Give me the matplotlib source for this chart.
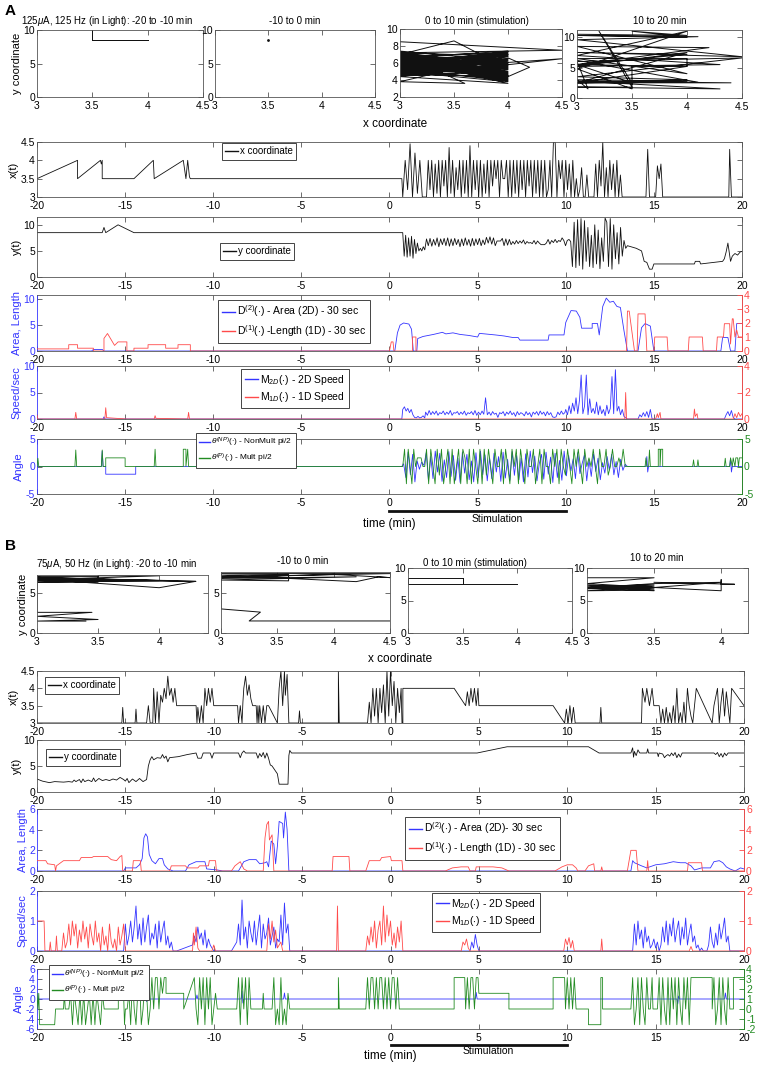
import numpy as np
import matplotlib
matplotlib.use("Agg")
import matplotlib.pyplot as plt
from matplotlib.ticker import FormatStrFormatter

plt.rcParams['font.family'] = ['Liberation Sans', 'DejaVu Sans']
plt.rcParams['mathtext.fontset'] = 'custom'
plt.rcParams['mathtext.rm'] = 'Liberation Sans'
plt.rcParams['mathtext.it'] = 'Liberation Sans:italic'
plt.rcParams['axes.unicode_minus'] = False

BLUE = '#3434ff'
RED = '#ff4a4a'
GREEN = '#228b22'
BLACK = '#111111'
GRID = '#555555'

# ---------------- data : panel A ----------------
A1_path = [(3.5, 8.5), (4.0, 8.5), (3.5, 8.5), (4.0, 8.5), (3.5, 8.5), (3.5, 10.0), (3.5, 8.5), (4.0, 8.5)]
A2_path = [(3.5, 8.5)]
A3_path = [(3.0, 8.5), (4.5, 7.5), (3.0, 7.2), (4.0, 6.8), (3.0, 6.5), (4.0, 4.2), (3.0, 7.0), (4.0, 5.0),
           (3.0, 4.5), (4.0, 6.0), (3.0, 5.5), (4.0, 7.0), (3.0, 6.0), (4.0, 4.0), (3.0, 7.3), (4.0, 5.5),
           (3.0, 4.8), (4.0, 6.5), (3.0, 5.0), (4.0, 3.8), (3.0, 6.8), (4.0, 7.2), (3.0, 5.8), (4.0, 4.5),
           (3.0, 4.6), (4.0, 6.2), (3.0, 7.0), (3.5, 8.6), (3.7, 7.3), (4.0, 5.8), (3.0, 6.3), (4.0, 4.8),
           (3.0, 5.2), (4.5, 6.5), (3.0, 4.4), (4.0, 3.6), (3.0, 6.6), (4.0, 7.4), (3.0, 5.6), (4.0, 5.2),
           (3.0, 4.5), (4.0, 6.8), (3.0, 3.8), (3.6, 3.6), (3.0, 7.1), (4.0, 4.4), (4.2, 5.5), (4.0, 6.6),
           (3.0, 5.9), (4.0, 4.6), (3.0, 6.4), (4.0, 7.0), (3.0, 4.7), (4.0, 5.6), (3.0, 6.9), (4.0, 3.9),
           (3.0, 5.3), (4.0, 6.3), (3.0, 7.4), (4.0, 4.3), (3.0, 6.1), (4.0, 5.4), (3.0, 4.9), (4.0, 6.9),
           (3.0, 5.4), (4.0, 4.7), (3.0, 6.7), (4.0, 5.9), (3.0, 4.6), (4.0, 7.1), (3.0, 5.7), (4.0, 4.9),
           (3.0, 7.2), (4.0, 5.3), (3.0, 6.2), (4.0, 6.4), (3.0, 5.1), (4.0, 4.1), (3.0, 6.0), (4.0, 7.3),
           (3.0, 4.7), (4.0, 5.7), (3.0, 6.5), (4.0, 4.5)]
A4_path = [(3.0, 10.5), (4.0, 10.3), (3.5, 11.0), (4.0, 10.0), (3.0, 10.3), (4.1, 10.1), (3.0, 9.6), (4.5, 6.8),
           (3.0, 7.5), (4.0, 7.2), (3.0, 5.5), (4.0, 5.2), (3.0, 2.5), (4.4, 2.5), (3.0, 2.8), (4.3, 1.5),
           (3.0, 1.8), (3.5, 1.8), (3.2, 11.0), (3.5, 2.5), (3.0, 5.5), (4.2, 8.3), (3.0, 8.5), (4.0, 4.0),
           (3.0, 6.5), (4.0, 6.5), (4.0, 5.2), (3.5, 5.2), (3.5, 1.5), (3.0, 4.8), (4.0, 11.0), (3.0, 7.0),
           (4.3, 5.5), (3.0, 5.2), (4.0, 7.5), (3.0, 2.5), (4.0, 2.8), (3.0, 3.0), (3.1, 1.5), (3.0, 6.0),
           (4.5, 6.6), (3.0, 3.5), (4.0, 3.0), (3.0, 2.5), (4.1, 2.6), (3.0, 6.2)]

# x(t), panel A
Ax_pre = [(-20, 3.5), (-17.7, 4.0), (-17.7, 3.5), (-16.4, 4.0), (-16.35, 3.9), (-16.3, 4.0), (-16.3, 3.5),
          (-14.5, 3.5), (-13.4, 4.0), (-13.35, 3.5), (-11.7, 4.0), (-11.55, 3.5), (-11.45, 4.0),
          (-11.35, 3.55), (-11.3, 3.5), (0.7, 3.5)]
Ax_d1 = [3.0, 4.0, 3.2, 4.45, 3.0, 4.2, 3.1, 4.0, 3.0, 3.0]                      # 0.75 - 2.0
Ax_d2 = [3.0, 4.0, 3.2, 4.0, 3.0, 3.9, 3.1, 4.0, 3.0, 4.0,
         3.3, 4.0, 3.0, 4.35, 3.1, 4.0, 3.0, 3.8, 3.2, 4.0,
         3.0, 4.0, 3.1, 4.0, 3.0, 4.4, 3.0, 4.0, 3.2, 4.0,
         3.0, 4.0, 3.0, 3.9, 3.1, 4.0, 3.0, 4.0, 3.3, 4.0,
         3.5, 4.0, 3.0, 4.0, 3.5, 3.5, 4.0, 3.0, 4.0, 3.0,
         4.0, 3.1, 4.0, 3.0, 4.0, 3.2, 4.0, 3.0, 4.0, 3.3,
         4.0, 3.0, 4.0, 3.1, 4.0, 3.0, 4.0, 3.0, 4.0, 3.0,
         3.2, 4.0, 3.0, 4.5]                                                     # 2.1 - 9.3
Ax_d3 = [4.5, 3.0, 4.0, 3.5, 4.0, 3.0, 4.0, 3.2, 3.9, 3.0,
         4.0, 3.0, 3.5, 3.0, 3.2, 3.8, 3.0, 3.0, 3.6, 3.0,
         3.0, 3.0, 3.0, 3.9, 3.0, 4.0, 3.3, 4.5, 3.0, 3.8,
         3.0, 4.0, 3.2, 3.9, 3.0, 4.0, 3.0, 3.6, 3.0, 3.0, 3.0]                   # 9.4 - 13.4
Ax_post = [(13.5, 3.0), (14.55, 3.0), (14.65, 4.3), (14.75, 3.0), (15.1, 3.0), (15.2, 3.85), (15.3, 3.5),
           (15.4, 3.9), (15.5, 3.0), (19.25, 3.0), (19.3, 4.3), (19.4, 3.0), (20.0, 3.0)]

# y(t), panel A
Ay_pre = [(-20, 8.5), (-16.3, 8.5), (-16.2, 9.5), (-16.1, 8.5), (-15.4, 10.0), (-14.5, 8.5), (0.7, 8.5)]
Ay_d1 = [8.5, 4.0, 8.0, 3.8, 7.5, 4.0, 7.8, 3.6, 7.2, 4.5, 6.5, 5.0, 5.5, 5.0, 5.8, 5.2]   # 0.75 - 2.0
Ay_d2 = [7.3, 6.0, 7.4, 5.9, 7.2, 6.1, 7.5, 5.8, 7.3, 6.2, 7.4, 6.0, 7.5, 5.9, 7.3, 6.0, 7.4, 6.2, 7.2, 5.8,
         7.3, 6.0, 7.5, 6.1, 7.2, 5.9, 7.4, 6.0, 7.3, 6.2, 7.4, 6.0, 7.1, 6.2, 7.6, 6.5, 7.7, 6.3, 7.5, 6.0,
         6.9, 6.9, 6.9, 7.4, 6.0, 7.3, 6.1, 7.2, 6.2, 6.8, 6.3, 7.0, 6.4, 6.9, 6.5, 7.1, 6.3, 6.8, 6.5, 6.6,
         6.4, 7.0, 6.3, 6.9, 6.5, 6.2, 6.2, 6.2, 6.5, 7.2, 6.3, 7.0, 6.6, 7.2]                  # 2.1 - 9.4
Ay_d3 = [6.6, 7.0, 6.8, 7.5, 7.0, 6.0, 7.0, 7.2, 6.8,
         2.0, 10.5, 1.8, 11.0, 2.2, 11.2, 1.5, 10.8, 3.0, 9.5, 2.0, 8.0, 1.8, 10.0, 2.5, 9.0, 1.6,
         7.5, 3.0, 11.3, 10.5, 2.0, 11.2, 1.5, 10.0, 3.5, 8.5, 2.5, 9.5, 4.0, 7.0, 5.5, 6.0]    # 9.5 - 13.5
Ay_post = [(14.0, 5.5), (14.3, 5.0), (14.45, 3.0), (14.6, 2.8), (14.75, 1.5), (14.9, 1.5), (15.0, 2.5),
           (17.3, 2.5), (17.35, 3.0), (17.6, 3.0), (17.65, 2.5), (18.9, 3.0), (19.0, 3.5), (19.1, 4.8),
           (19.2, 6.5), (19.35, 3.0), (19.45, 4.0), (19.6, 4.5), (19.75, 4.2), (19.9, 4.8), (20.0, 4.9)]

# Area / Length, panel A  (blue: left axis, red: right axis)
A_area = [(-20, 0), (-16.9, 0), (-16.8, 0.3), (-16.3, 0.3), (-16.2, 0), (0.3, 0), (0.45, 3.5), (0.6, 5.0),
          (0.8, 5.4), (1.1, 5.2), (1.25, 4.2), (1.35, 0), (1.55, 0), (1.6, 2.4), (1.9, 2.8), (2.5, 3.2),
          (3.0, 3.6), (3.2, 3.3), (3.6, 3.5), (4.0, 3.2), (4.5, 3.0), (5.0, 2.7), (5.1, 3.4), (6.0, 3.1),
          (6.5, 2.9), (7.0, 2.6), (7.3, 2.6), (7.4, 2.1), (9.0, 2.1), (9.05, 3.1), (9.9, 3.1), (10.0, 5.5),
          (10.3, 7.8), (10.6, 7.7), (10.8, 6.5), (10.9, 4.4), (11.5, 4.4), (11.5, 5.3), (11.8, 5.3),
          (11.9, 3.1), (12.1, 8.6), (12.3, 10.2), (12.5, 9.4), (12.7, 9.6), (12.9, 8.6), (13.1, 8.4),
          (13.3, 4.0), (13.5, 0), (14.1, 0), (14.3, 4.5), (14.5, 5.3), (14.8, 4.8), (15.0, 0), (18.8, 0),
          (18.9, 2.6), (19.2, 2.6), (19.35, 0), (19.6, 0), (19.7, 5.3), (20, 5.3)]
A_length = [(-20, 0.15), (-18.2, 0.15), (-18.2, 0.45), (-17.7, 0.45), (-17.7, 0.2), (-16.8, 0.2), (-16.8, 0.0),
            (-16.2, 0.0), (-16.2, 0.9), (-16.0, 1.25), (-15.6, 0.4), (-15.4, 0.65), (-14.9, 0.65),
            (-14.9, 0.0), (-14.5, 0.0), (-14.5, 0.2), (-13.7, 0.2), (-13.7, 0.45), (-12.7, 0.45),
            (-12.7, 0.2), (-12.0, 0.2), (-12.0, 0.45), (-11.3, 0.45), (-11.3, 0), (0.0, 0), (0.1, 0.65),
            (0.2, 0.65), (0.25, 0), (1.3, 0), (1.3, 1.0), (1.5, 1.0), (1.5, 0), (13.45, 0), (13.5, 2.85),
            (13.6, 2.85), (13.9, 0), (14.05, 0), (14.1, 2.65), (14.5, 2.65), (14.6, 0), (15.0, 0),
            (15.05, 1.0), (15.75, 1.0), (15.8, 0), (16.95, 0), (17.0, 1.0), (17.75, 1.0), (17.8, 0),
            (18.55, 0), (18.6, 1.0), (18.95, 1.0), (19.0, 1.95), (19.3, 1.95), (19.35, 0.5), (19.45, 2.3),
            (19.5, 2.3), (19.6, 1.0), (19.7, 1.5), (19.8, 1.0), (20, 1.0)]

# Speed, panel A  (blue: left axis 0-10, red: right axis 0-4)
A_sp2_pre = [(-20, 0.2), (-19.95, 0), (-16.25, 0), (-16.2, 0.4), (-16.15, 0), (0.7, 0)]
A_sp2_d1 = [1.8, 2.3, 1.5, 2.0, 1.2, 1.8, 0.8, 0.3, 0.2, 0.5, 0.2, 0.3, 0.6, 0.2]           # 0.75 - 2.0
A_sp2_d2 = [1.3, 0.7, 1.6, 0.8, 1.4, 0.9, 1.5, 0.7, 1.2, 1.0, 1.5, 0.8, 1.3, 0.9, 1.6, 0.7, 1.2, 1.1, 1.4, 0.8,
            1.3, 0.9, 1.5, 0.7, 1.2, 1.0, 1.4, 0.8, 1.6, 0.7, 1.3, 0.8, 1.5, 0.9, 4.0, 0.8, 1.3, 0.7, 1.4, 0.9,
            1.1, 0.3, 1.2, 1.0, 1.4, 0.6, 1.3, 0.9, 1.5, 0.8, 1.2, 0.5, 1.4, 0.8, 1.2, 1.0, 0.6, 1.4, 0.8, 1.2,
            0.4, 1.3, 0.9, 1.4, 0.7, 1.5, 0.9, 1.3, 0.6, 1.4, 0.8, 1.2, 0.4, 0.3, 0.4, 1.3, 0.8, 1.5, 0.9, 1.2]
A_sp2_d3 = [1.8, 0.8, 2.5, 1.0, 3.0, 1.5, 4.0, 1.0, 3.5, 8.3, 1.0, 2.5, 8.3, 0.8, 3.8, 1.2, 2.0, 1.0, 3.2, 0.8,
            2.5, 1.0, 1.8, 0.6, 2.6, 1.0, 2.0, 8.0, 1.0, 9.3, 1.5, 2.4, 0.8, 1.8, 0.5, 0.2]  # 10.0 - 13.4
A_sp2_post = [(13.5, 0), (14.1, 0), (14.2, 0.8), (14.3, 0.4), (14.4, 1.2), (14.5, 0.5), (14.6, 1.4), (14.7, 0.3),
              (14.8, 1.8), (14.9, 0), (19.0, 0), (19.1, 0.8), (19.2, 1.4), (19.3, 0.6), (19.4, 1.6), (19.5, 0.3),
              (19.6, 0), (20, 0)]
A_sp1 = [(-20, 0.3), (-19.95, 0), (-17.85, 0), (-17.8, 0.5), (-17.75, 0), (-16.15, 0), (-16.1, 0.85),
         (-16.05, 0.1), (-15.5, 0.05), (-14.9, 0), (-13.35, 0), (-13.3, 0.25), (-13.25, 0.05), (-11.45, 0),
         (-11.4, 0.5), (-11.35, 0), (13.35, 0), (13.4, 2.0), (13.45, 0), (15.1, 0), (15.2, 0.4), (15.25, 0.1),
         (15.35, 0.5), (15.4, 0), (17.25, 0), (17.3, 0.75), (17.35, 0.2), (17.45, 0.4), (17.5, 0), (19.5, 0),
         (19.6, 0.4), (19.7, 0.1), (19.8, 0.5), (19.9, 0.2), (20, 0.4)]

# Angle, panel A  (blue: non multiples of pi/2, green: multiples of pi/2)
A_angP_pre = [(-20, 0), (-19.95, 1.5), (-19.9, 0), (-17.85, 0), (-17.8, 3.0), (-17.75, 0), (-16.35, 0),
              (-16.3, 3.0), (-16.25, 0), (-16.1, 0), (-16.1, 1.57), (-15.0, 1.57), (-15.0, 0), (-13.35, 0),
              (-13.3, 3.14), (-13.25, 0), (-11.7, 0), (-11.7, 3.14), (-11.55, 3.14), (-11.55, 0),
              (-11.45, 3.14), (-11.4, 0), (0.7, 0)]
A_angP_d1 = [0, 3.14, -3.14, 3.14, 0, -3.14, 3.14, 0, 1.57, 1.57, 1.57, 0, 0]              # 0.75 - 2.0
A_angP_d2 = [3.14, -3.14, 3.14, 0, -3.14, 3.14, -1.57, 3.14, -3.14, 0,
             3.14, -3.14, 3.14, -3.14, 0, 3.14, -3.14, 3.14, 1.57, -3.14,
             3.14, -3.14, 3.14, 0, -3.14, 3.14, -3.14, 3.14, -1.57, 3.14,
             0, -3.14, 3.14, 0, 0, 3.14, -3.14, 3.14, 0, -3.14,
             3.14, 0, 3.14, -3.14, 3.14, 0, -3.14, 3.14, 0, 0,
             3.14, -3.14, 0, 3.14, -3.14, 3.14, 0, 0, -3.14, 3.14,
             0, 3.14, -3.14, 3.14, 0, -1.57, 3.14, 0, -3.14, 3.14,
             0, 3.14, 0, -3.14, 3.14, 0, 1.57, 0, 3.14, 0,
             -3.14, 3.14, 0, 0, 3.14, -1.57, 0, 3.14, 0, 0,
             1.57, 0, 3.14, 0, 0]                                                        # 2.1 - 13.5
A_angP_post = [(13.6, 0), (14.5, 0), (14.55, 1.57), (14.6, 0), (14.7, 0), (14.75, 3.0), (14.8, 0), (15.25, 0),
               (15.25, 3.14), (15.35, 3.14), (15.35, 0), (15.4, 3.14), (15.5, 3.14), (15.5, 0), (17.2, 0),
               (17.25, 1.2), (17.3, 0), (17.45, 0), (17.5, 1.2), (17.55, 0), (19.0, 0), (19.05, 1.5), (19.1, 0),
               (19.3, 0), (19.35, 1.57), (19.45, 0), (19.5, 1.57), (19.6, 0), (19.65, 1.57), (19.75, 1.57),
               (19.8, 0), (19.85, 1.57), (20, 1.57)]
A_angNP_pre = [(-20, 0), (-16.35, 0), (-16.3, 2.8), (-16.25, 0), (-16.1, 0), (-16.1, -1.4), (-14.4, -1.4),
               (-14.4, 0), (0.7, 0)]
A_angNP_d = [0.5, -2.0, 2.6, -1.5, 2.2, -2.8, 1.0, -0.5, 0.8, 0.2,
             2.5, -2.6, 1.8, -2.2, 2.8, -1.0, 2.4, -2.7, 1.2, -2.0,
             2.7, -1.8, 2.0, -2.5, 1.5, -2.9, 2.6, -1.2, 2.2, -2.4,
             1.0, -2.8, 2.5, -2.0, 2.8, -1.5, 2.1, -2.6, 1.6, -2.2,
             2.4, -1.0, 1.8, -2.7, 2.6, -2.1, 1.3, -2.5, 2.7, -1.6,
             2.0, -2.4, 1.5, -2.8, 2.3, -1.9, 2.8, -1.1, 1.9, -2.6,
             0.5, 2.2, -2.3, 2.6, -1.4, 1.7, -2.9, 2.4, -2.0, 1.1,
             -2.5, 2.8, -1.7, 2.0, -0.8, 1.4, -2.2, 2.5, -1.3, 0.6,
             2.1, -2.6, 1.2, -1.8, 2.3, -0.9, 1.5, -2.4, 0.7, -1.2,
             1.8, -0.6, 2.2, -1.5, 0.9, -2.0, 1.3, -0.7, 0.4, 0.0]                      # 0.8 - 13.5
A_angNP_post = [(13.6, 0), (14.55, 0), (14.6, 1.8), (14.65, -1.0), (14.7, 0), (19.3, 0), (19.35, 1.5),
                (19.4, -1.0), (19.45, 0), (20, 0)]

# ---------------- data : panel B ----------------
B1_path = [(3.0, 7.1), (3.5, 7.1), (3.5, 6.5), (3.0, 6.6), (4.3, 6.5), (3.0, 6.8), (4.0, 5.7), (4.3, 6.5),
           (3.0, 7.0), (4.0, 6.6), (3.0, 6.4), (3.5, 6.4), (3.5, 7.2), (4.0, 7.2), (3.0, 6.7), (4.1, 6.6),
           (3.0, 6.9), (3.0, 2.6), (3.45, 2.6), (3.0, 2.1), (3.5, 1.7), (3.0, 1.5), (3.4, 1.5)]
B2_path = [(3.0, 7.4), (4.5, 7.4), (3.0, 7.0), (3.6, 7.2), (3.0, 6.8), (4.2, 7.0), (3.0, 6.6), (3.6, 6.5),
           (3.6, 7.3), (3.0, 7.2), (4.2, 6.4), (4.4, 7.0), (4.5, 6.9), (4.0, 7.3), (3.0, 6.9), (3.0, 3.0),
           (3.35, 2.6), (3.25, 1.5), (4.5, 1.5)]
B3_path = [(3.5, 8.5), (3.0, 8.5), (3.0, 7.5), (3.5, 7.5), (3.5, 8.5), (3.5, 7.5), (4.0, 7.5)]
B4_path = [(3.0, 8.5), (3.5, 8.5), (3.0, 7.6), (3.5, 7.0), (3.0, 6.8), (3.5, 7.4), (3.0, 7.2), (3.5, 6.6),
           (3.0, 6.5), (3.5, 7.2), (3.0, 7.0), (3.5, 6.8), (3.0, 7.4), (3.5, 6.5), (3.0, 6.9), (3.5, 7.6),
           (4.0, 7.8), (3.5, 7.0), (4.0, 6.5), (4.0, 8.2), (4.0, 7.5), (4.1, 7.5), (3.5, 7.8)]

B_x = [(-20, 3.0), (-15.2, 3.0), (-15.15, 3.45), (-15.1, 3.0), (-14.45, 3.0), (-14.4, 3.4), (-14.35, 3.0),
       (-13.8, 3.0), (-13.7, 3.5), (-13.6, 3.0), (-13.45, 3.0), (-13.4, 4.0), (-13.3, 3.0), (-13.2, 3.9),
       (-13.1, 3.0), (-13.0, 3.8), (-12.9, 3.6), (-12.8, 4.0), (-12.7, 3.7), (-12.6, 4.35), (-12.5, 3.8),
       (-12.4, 4.0), (-12.3, 3.6), (-12.2, 4.0), (-12.1, 3.5), (-11.0, 3.5), (-10.95, 3.0), (-10.9, 3.45),
       (-10.8, 3.0), (-10.7, 3.5), (-10.6, 3.0), (-10.5, 4.0), (-10.4, 3.5), (-10.3, 4.0), (-10.2, 3.6),
       (-10.1, 4.0), (-10.0, 3.5), (-8.65, 3.5), (-8.6, 3.0), (-8.5, 3.5), (-8.4, 3.0), (-8.35, 3.6),
       (-8.3, 4.0), (-8.2, 4.35), (-8.1, 3.8), (-8.0, 4.1), (-7.9, 3.7), (-7.8, 3.5), (-7.6, 3.5),
       (-7.55, 3.0), (-7.5, 3.5), (-7.45, 3.0), (-7.4, 3.5), (-7.3, 3.0), (-7.2, 3.5), (-7.1, 3.0),
       (-7.0, 3.5), (-6.9, 3.5), (-6.4, 3.0), (-6.3, 4.0), (-6.2, 4.5), (-6.1, 3.5), (-6.0, 4.5),
       (-5.95, 3.8), (-5.85, 4.4), (-5.75, 3.0), (-5.2, 3.0), (-5.15, 3.35), (-5.1, 3.0), (-2.95, 3.0),
       (-2.95, 4.5), (-2.9, 3.0), (-1.3, 3.0), (-1.2, 3.6), (-1.1, 3.0), (-1.0, 4.0), (-0.9, 3.2),
       (-0.8, 4.0), (-0.7, 3.0), (-0.6, 4.0), (-0.5, 3.3), (-0.4, 4.1), (-0.3, 3.0), (-0.2, 4.5),
       (-0.1, 3.2), (0.0, 4.5), (0.1, 3.5), (0.2, 4.2), (0.3, 3.0), (0.4, 4.0), (0.5, 3.3), (0.6, 4.0),
       (0.65, 3.0), (0.7, 3.0), (0.7, 4.0), (3.6, 4.0), (4.25, 3.5), (4.35, 3.9), (4.45, 3.5), (4.55, 4.0),
       (4.65, 3.6), (4.75, 4.0), (4.85, 3.5), (4.95, 4.0), (5.0, 3.5), (9.2, 3.5), (9.85, 3.0), (9.95, 3.4),
       (10.05, 3.0), (10.15, 3.5), (10.25, 3.0), (10.35, 3.45), (10.45, 3.0), (11.85, 3.0), (11.9, 3.45),
       (11.95, 3.0), (14.2, 3.0), (14.25, 4.0), (14.4, 3.6), (14.5, 4.0), (14.65, 3.5), (14.8, 4.0),
       (14.9, 3.5), (15.2, 3.5), (15.3, 3.0), (15.4, 3.4), (15.5, 3.0), (15.6, 3.45), (15.7, 3.0),
       (15.8, 3.3), (15.9, 3.0), (16.0, 3.5), (16.1, 3.0), (16.2, 4.0), (16.3, 3.0), (16.4, 3.3),
       (16.5, 3.0), (16.6, 3.6), (16.7, 3.0), (16.8, 4.0), (16.9, 3.5), (17.0, 3.2), (17.1, 3.0),
       (17.3, 4.0), (18.2, 3.0), (18.3, 3.5), (18.5, 4.0), (18.6, 3.0), (18.7, 3.6), (18.8, 4.0),
       (18.9, 3.2), (19.0, 3.9), (19.2, 3.0), (19.3, 4.0), (20.0, 3.5)]
B_y = [(-20, 2.5), (-19.7, 2.1), (-19.3, 1.8), (-19.0, 2.0), (-18.5, 1.9), (-18.2, 2.0), (-18.0, 1.9),
       (-17.9, 2.3), (-17.8, 2.0), (-17.6, 2.4), (-17.5, 1.8), (-17.4, 2.5), (-17.3, 2.0), (-17.1, 2.3),
       (-16.9, 2.0), (-16.8, 2.7), (-16.7, 2.0), (-16.5, 2.6), (-16.3, 2.2), (-16.1, 2.4), (-15.9, 2.2),
       (-15.7, 2.5), (-15.5, 2.3), (-15.3, 2.8), (-15.1, 2.4), (-15.0, 2.1), (-14.9, 2.6), (-14.8, 1.8),
       (-14.6, 2.5), (-14.4, 2.0), (-14.2, 2.6), (-14.0, 2.0), (-13.8, 2.4), (-13.7, 5.0), (-13.6, 6.2),
       (-13.5, 6.8), (-13.4, 6.2), (-13.2, 6.6), (-13.0, 6.5), (-12.9, 7.2), (-12.8, 6.5), (-12.7, 6.9),
       (-12.6, 5.8), (-12.5, 6.6), (-12.0, 6.8), (-11.5, 7.2), (-11.0, 7.5), (-10.9, 6.5), (-10.7, 6.5),
       (-10.6, 7.5), (-10.2, 7.5), (-10.1, 6.5), (-10.0, 7.5), (-8.6, 7.5), (-8.5, 6.6), (-8.4, 7.5),
       (-8.3, 7.9), (-8.2, 7.5), (-7.6, 7.5), (-7.5, 6.5), (-7.4, 7.4), (-7.3, 6.8), (-7.2, 7.6),
       (-7.1, 6.5), (-7.0, 7.5), (-6.9, 6.5), (-6.8, 5.2), (-6.7, 5.0), (-6.6, 4.5), (-6.4, 3.5),
       (-6.3, 1.5), (-5.8, 1.5), (-5.75, 7.0), (-5.7, 8.0), (-5.6, 7.5), (4.9, 7.5), (6.6, 8.7),
       (11.2, 8.7), (11.8, 7.5), (13.6, 7.5), (13.7, 8.5), (13.75, 6.7), (13.8, 7.8), (13.9, 7.0),
       (14.0, 8.1), (14.1, 7.5), (14.5, 7.5), (14.55, 8.3), (14.6, 7.5), (15.1, 7.5), (15.15, 6.8),
       (15.2, 7.5), (15.4, 7.3), (15.5, 6.6), (15.6, 7.0), (15.7, 7.2), (15.8, 6.9), (15.9, 7.5),
       (16.0, 7.0), (16.1, 7.6), (16.2, 6.6), (16.3, 7.3), (16.4, 6.7), (16.5, 7.5), (18.3, 7.5),
       (18.4, 7.2), (18.5, 7.6), (18.6, 6.8), (18.7, 7.4), (18.8, 6.7), (18.9, 7.5), (19.0, 7.0),
       (19.1, 7.5), (20.0, 7.5)]

B_area = [(-20, 0), (-15.1, 0), (-15.0, 0.3), (-14.4, 0.3), (-14.2, 0.6), (-14.05, 1.2), (-13.95, 3.2),
          (-13.85, 3.6), (-13.75, 3.3), (-13.65, 1.6), (-13.5, 1.0), (-13.3, 0.7), (-13.1, 1.2), (-12.9, 1.2),
          (-12.8, 0.6), (-12.6, 0.2), (-12.3, 0), (-11.6, 0), (-11.4, 0.6), (-11.0, 0.9), (-10.5, 0.9),
          (-10.4, 0.2), (-9.8, 0.1), (-9.5, 0), (-8.6, 0), (-8.3, 0.9), (-8.0, 1.1), (-7.6, 1.1), (-7.4, 0.7),
          (-7.1, 0.8), (-7.0, 0.9), (-6.9, 0.4), (-6.75, 2.9), (-6.6, 2.6), (-6.5, 0.7), (-6.4, 2.4),
          (-6.3, 4.8), (-6.1, 4.6), (-6.05, 3.2), (-5.95, 5.7), (-5.85, 4.0), (-5.75, 0), (13.6, 0),
          (13.7, 1.0), (13.8, 0.8), (14.2, 0.5), (14.5, 0.3), (15.0, 0.6), (15.5, 0.7), (16.0, 0.9),
          (16.4, 0.8), (16.7, 0.8), (17.0, 0.5), (17.2, 0.1), (17.6, 0.3), (18.1, 0.3), (18.3, 0.9),
          (18.6, 1.0), (18.8, 0.8), (19.0, 0.4), (19.2, 0.2), (19.5, 0), (19.8, 0.3), (20, 0.2)]
B_length = [(-20, 1.0), (-19.5, 1.0), (-19.4, 0.7), (-19.0, 0.6), (-18.95, 0), (-18.9, 0.5), (-18.5, 1.0),
            (-17.6, 1.0), (-17.5, 1.3), (-16.9, 1.3), (-16.8, 1.4), (-16.0, 1.4), (-15.8, 1.1), (-15.5, 1.0),
            (-15.3, 1.4), (-15.2, 1.5), (-15.15, 0), (-14.6, 0), (-14.55, 1.0), (-14.15, 1.0), (-14.1, 0),
            (-12.5, 0), (-12.4, 0.5), (-11.6, 0.5), (-11.5, 0.3), (-10.9, 0.3), (-10.8, 0.5), (-10.3, 0.5),
            (-10.25, 1.0), (-9.9, 1.0), (-9.85, 0), (-9.0, 0), (-8.8, 0.5), (-8.5, 0.9), (-8.3, 0.2),
            (-8.1, 0), (-7.2, 0), (-7.1, 3.2), (-7.0, 4.5), (-6.9, 4.8), (-6.85, 3.0), (-6.7, 3.5), (-6.6, 0),
            (-3.3, 0), (-3.25, 1.4), (-2.35, 1.4), (-2.3, 0), (-1.4, 0), (-1.2, 1.0), (-0.6, 1.0), (-0.5, 1.3),
            (0.0, 1.4), (0.05, 1.0), (0.65, 1.0), (0.7, 0), (3.1, 0), (3.5, 0.3), (4.0, 0.4), (4.4, 0.4),
            (4.5, 0), (4.8, 0), (4.85, 0.4), (5.8, 0.4), (6.3, 0.3), (6.7, 0), (9.3, 0), (9.7, 0.4),
            (10.0, 0.6), (10.3, 0.6), (10.5, 0.3), (10.6, 0), (11.0, 0), (11.2, 0.5), (11.5, 0.7), (11.55, 0),
            (11.9, 0), (11.95, 0.4), (12.0, 0), (13.4, 0), (13.5, 1.0), (13.6, 2.0), (13.9, 2.0), (14.0, 0),
            (14.5, 0), (14.55, 1.0), (14.6, 0), (16.8, 0), (16.85, 0.8), (17.6, 0.8), (17.65, 0), (20, 0)]

B_sp1_pre = [(-20, 1.0), (-19.6, 1.0), (-19.55, 0), (-19.3, 0), (-19.25, 0.3), (-19.2, 0), (-18.95, 0),
             (-18.9, 0.5), (-18.85, 0), (-18.6, 0)]
B_sp1_d1 = [0.6, 0.1, 0.3, 0.9, 0.2, 1.0, 0.5, 0.9, 0.1, 0.7, 0.3, 1.0, 0.4, 0.8, 0.1, 0.9, 0.5, 0.2,
            1.0, 0.3, 0.6, 0.0, 0.8, 0.2, 0.5, 0.0, 0.9, 0.3, 0.1, 0.4, 0.0, 0.8, 0.2, 0.5, 0.9, 0.0]  # -18.5 - -15.0
B_sp1_mid = [(-14.9, 0), (-11.2, 0), (-11.15, 0.6), (-11.1, 0.2), (-11.0, 0.8), (-10.9, 0.1), (-10.8, 0),
             (-10.1, 0), (-10.0, 0.2), (-9.9, 0), (-7.0, 0), (-6.9, 0.9), (-6.8, 0.4), (-6.7, 1.0),
             (-6.6, 0.3), (-6.5, 0.7), (-6.4, 0.1), (-6.2, 0.3), (-6.1, 0), (-3.05, 0), (-3.0, 1.5),
             (-2.95, 0), (-1.4, 0)]
B_sp1_d2 = [0.5, 0.2, 0.8, 0.3, 1.0, 0.1, 0.7, 1.0, 0.2, 1.5, 0.3, 1.2, 0.5, 1.0, 0.2, 0.6, 0.1,
            0.8, 0.3, 1.0]                                                                       # -1.3 - 0.6
B_sp1_post = [(0.7, 0), (4.0, 0), (4.1, 0.3), (4.2, 0.2), (4.3, 0.4), (4.4, 0.1), (4.5, 0), (9.8, 0),
              (9.9, 0.4), (10.0, 0.2), (10.1, 0.45), (10.2, 0.1), (10.3, 0.35), (10.4, 0), (11.9, 0),
              (11.95, 0.4), (12.0, 0), (16.9, 0), (17.0, 0.15), (17.1, 0), (20, 0)]
B_sp2_d1 = [0.9, 0.2, 0.5, 1.0, 0.3, 0.8, 1.5, 0.4, 0.9, 0.2, 1.1, 0.3, 0.8, 1.2, 0.2, 0.6, 0.4,
            0.9, 0.1, 1.0, 0.3, 0.7, 1.0, 0.2, 0.5, 0.1, 0.3, 0.0, 0.0]                          # -15.0 - -12.2
B_sp2_d2 = [0.2, 0.5, 0.3, 0.8, 0.4, 0.6, 0.2, 0.7, 0.1, 0.4, 0.2, 0.1, 0.0]                    # -11.2 - -10.0
B_sp2_d3 = [0.3, 0.9, 0.2, 1.7, 0.4, 0.8, 0.1, 1.0, 0.6, 0.3, 1.0, 0.2, 0.7, 1.2, 0.1, 0.9, 0.4,
            0.6, 1.1, 0.2, 0.5, 0.8, 0.1, 0.4, 0.3, 1.2, 0.2, 1.6, 0.6, 0.9, 0.0]                # -8.7 - -5.7
B_sp2_mid = [(-5.6, 0), (4.5, 0), (4.6, 0.3), (4.7, 0.1), (4.8, 0.55), (4.9, 0.2), (5.0, 0), (13.7, 0)]
B_sp2_d4 = [0.9, 0.2, 1.0, 0.4, 0.7, 0.1, 0.8, 0.3, 0.5, 0.1, 0.2, 0.4, 0.1, 0.3, 0.0, 0.2, 0.8,
            0.3, 1.0, 0.2, 0.9, 0.5, 1.1, 0.3, 0.7, 1.0, 0.2, 0.8, 0.4, 1.1, 0.2, 0.6, 0.9, 0.3, 0.5,
            0.1, 0.2, 0.0, 0.1, 0.0, 0.0, 0.0, 0.2, 0.8, 0.3, 0.1, 0.6, 0.2, 0.9, 0.4, 0.7, 1.1, 0.3,
            0.5, 0.0]                                                                            # 13.8 - 19.2

# Angle, panel B : green on right axis (-2..4), blue on left axis (-6..6)
B_angP_pieces = [
    ('p', [(-20, 1.57), (-19.95, 0), (-19.9, 1.57), (-19.85, -1.57), (-19.0, -1.57), (-18.95, 0),
           (-18.5, 0), (-18.45, 1.57), (-18.4, 0), (-18.2, 0)]),
    ('d', -18.1, -16.3, [1.57, -1.57, 1.57, 0, -1.57, 1.57, -1.57, 1.57, -1.57, 0, 1.57, -1.57, 1.57,
                          -1.57, 1.57, 0, -1.57, 1.57]),
    ('p', [(-16.2, 0), (-15.4, 0), (-15.4, 1.57), (-15.1, 1.57), (-15.05, -1.57), (-15.0, 0), (-14.9, 0)]),
    ('d', -14.8, -13.6, [1.57, -1.57, 3.14, 0, -1.57, 1.57, 3.14, -1.57, 0, 3.14, 1.57, -1.57, 0]),
    ('d', -13.5, -12.7, [3.14, 0, 3.14, 3.14, 0, 3.14, 1.57, 3.14, 3.14]),
    ('p', [(-12.7, 1.57), (-11.7, 1.57), (-11.7, 0)]),
    ('d', -11.1, -9.9, [3.14, 0, -1.57, 3.14, 0, 3.14, -1.57, 3.14, 0, 3.14, -1.57, 0, 1.57]),
    ('p', [(-9.8, 0), (-8.7, 0)]),
    ('d', -8.6, -7.9, [3.14, -1.57, 3.14, 0, 3.14, -1.57, 3.14, 0]),
    ('p', [(-7.8, 0), (-7.25, 0), (-7.2, 1.57), (-7.15, 0), (-6.7, 0)]),
    ('d', -6.6, -5.8, [3.14, -1.57, 0, -1.57, 3.14, -1.57, 0, -1.57, 1.57]),
    ('p', [(-5.7, 0), (-2.95, 0), (-2.95, 3.14), (-2.9, 0), (-1.4, 0)]),
    ('d', -1.3, 0.6, [3.14, 0, 3.14, 3.14, 0, 3.14, 0, 3.14, 3.14, 0, 3.14, 0, 3.14, 0, 3.14, 3.14,
                      0, 3.14, 0, 0]),
    ('p', [(3.6, 0), (3.6, 3.14), (4.2, 3.14)]),
    ('d', 4.25, 4.95, [0, 3.14, 0, 3.14, 3.14, 0, 3.14, 3.14]),
    ('p', [(5.0, 1.57), (6.7, 1.57), (6.7, 0), (9.2, 0), (9.2, 3.14), (9.85, 3.14)]),
    ('d', 9.9, 10.5, [0, 3.14, 0, 3.14, 0, 3.14, 0]),
    ('p', [(11.2, 0), (11.2, -1.57), (11.9, -1.57), (11.9, 3.14), (12.0, 3.14), (12.0, 0), (13.6, 0)]),
    ('d', 13.7, 14.6, [3.14, -1.57, 0, 3.14, -1.57, 3.14, 0, -1.57, 3.14, 0]),
    ('p', [(14.7, 0), (14.8, 3.14), (14.85, 0), (15.1, 0)]),
    ('d', 15.2, 16.9, [3.14, -1.57, 3.14, 0, -1.57, 3.14, -1.57, 3.14, 0, 3.14, -1.57, 3.14, 0, -1.57,
                       3.14, 0, 3.14, -1.57]),
    ('p', [(17.0, 3.14), (18.2, 3.14), (18.2, 0)]),
    ('d', 18.3, 19.3, [3.14, -1.57, 0, 3.14, -1.57, 3.14, 0, -1.57, 3.14, 0, 0]),
    ('p', [(19.4, 0), (19.4, 3.14), (20, 3.14)]),
]
B_angNP = [(-20, 0), (-17.5, 0), (-17.45, 0.6), (-17.4, 0), (-14.0, 0), (-13.9, 1.0), (-13.8, -0.5),
           (-13.7, 0), (-11.0, 0), (-10.95, 0.8), (-10.9, 0), (-8.45, 0), (-8.4, 1.6), (-8.35, -0.8),
           (-8.3, 0), (-6.05, 0), (-6.0, 1.2), (-5.95, 0), (4.8, 0), (4.85, 1.3), (4.9, 0), (16.2, 0),
           (16.25, -1.0), (16.3, 0.6), (16.35, 0), (18.9, 0), (18.95, 1.2), (19.0, 0), (20, 0)]


# ---------------- helpers ----------------
def P(pairs):
    a = np.array(pairs, float)
    return a[:, 0], a[:, 1]


def D(t0, t1, vals):
    return np.linspace(t0, t1, len(vals)), np.array(vals, float)


def J(*parts):
    return np.concatenate([p[0] for p in parts]), np.concatenate([p[1] for p in parts])


def pieces(lst):
    out = []
    for it in lst:
        out.append(P(it[1]) if it[0] == 'p' else D(it[1], it[2], it[3]))
    return J(*out)


W, H = 758, 1066
fig = plt.figure(figsize=(W / 100, H / 100), dpi=100)
FS = 7.5     # tick labels
LFS = 8      # axis labels
GFS = 7      # legends / titles
FMT = FormatStrFormatter('%g')


def ax_at(l, t, r, b):
    return fig.add_axes([l / W, 1 - b / H, (r - l) / W, (b - t) / H])


def style(ax, color='black', right=True):
    for s in ax.spines.values():
        s.set_color(GRID)
        s.set_linewidth(0.6)
    if color != 'black':
        ax.spines['left'].set_color(color)
    ax.tick_params(direction='in', length=3.5, width=0.6, color=GRID, labelsize=FS,
                   top=True, right=right)
    ax.tick_params(axis='x', pad=3, labelcolor='black')
    ax.tick_params(axis='y', pad=1.5, labelcolor=color)
    ax.xaxis.set_major_formatter(FMT)
    ax.yaxis.set_major_formatter(FMT)


def ytwin(ax, color, lim, ticks):
    tw = ax.twinx()
    tw.set_ylim(*lim)
    tw.set_yticks(ticks)
    tw.yaxis.set_major_formatter(FMT)
    for k, s in tw.spines.items():
        s.set_visible(k == 'right')
    tw.spines['right'].set_color(color)
    tw.spines['right'].set_linewidth(0.6)
    tw.tick_params(direction='in', length=3.5, width=0.6, color=color, labelsize=FS, pad=1.5,
                   labelcolor=color)
    return tw


def legend(ax, handles, labels, x, y, fs=GFS):
    lg = ax.legend(handles, labels, loc='upper left', bbox_to_anchor=(x / W, 1 - y / H),
                   bbox_transform=fig.transFigure, borderaxespad=0, fancybox=False, framealpha=1,
                   edgecolor='#444444', fontsize=fs, handlelength=1.3, handletextpad=0.2,
                   borderpad=0.35, labelspacing=0.35)
    lg.get_frame().set_linewidth(0.7)
    for ln in lg.get_lines():
        ln.set_linewidth(1.0)


def traj(box, path, xlim, ylim, xt, yt, ylabel=None, marker=False):
    ax = ax_at(*box)
    x, y = P(path)
    if marker:
        ax.plot(x, y, '.', color=BLACK, ms=2)
    else:
        ax.plot(x, y, color=BLACK, lw=0.7)
    ax.set_xlim(*xlim)
    ax.set_ylim(*ylim)
    ax.set_xticks(xt)
    ax.set_yticks(yt)
    style(ax)
    if ylabel:
        ax.set_ylabel(ylabel, fontsize=LFS, labelpad=1)
    return ax


TT = [-20, -15, -10, -5, 0, 5, 10, 15, 20]


def tax(box):
    ax = ax_at(*box)
    ax.set_xlim(-20, 20)
    ax.set_xticks(TT)
    return ax


# ================= Panel A =================
fig.text(5 / W, 1 - 11 / H, 'A', fontsize=11, fontweight='bold', va='center')
traj((37, 30, 203, 97), A1_path, (3, 4.5), (0, 10), [3, 3.5, 4, 4.5], [0, 5, 10], 'y coordinate')
traj((215, 30, 375, 97), A2_path, (3, 4.5), (0, 10), [3, 3.5, 4, 4.5], [0, 5, 10], marker=True)
traj((400, 29, 562, 97), A3_path, (3, 4.5), (2, 10), [3, 3.5, 4, 4.5], [2, 4, 6, 8, 10])
traj((577, 30, 742, 98), A4_path, (3, 4.5), (0, 11.2), [3, 3.5, 4, 4.5], [0, 5, 10])
for xc, txt in [(107, r'125$\mu$A, 125 Hz (in Light): -20 to -10 min'), (295, '-10 to 0 min'),
                (477, '0 to 10 min (stimulation)'), (660, '10 to 20 min')]:
    fig.text(xc / W, 1 - 21 / H, txt, fontsize=GFS, ha='center', va='center')
fig.text(395 / W, 1 - 124 / H, 'x coordinate', fontsize=8.5, ha='center', va='center')

# x(t)
ax = tax((37, 142, 742, 197))
h, = ax.plot(*J(P(Ax_pre), D(0.75, 2.0, Ax_d1), D(2.1, 9.3, Ax_d2), D(9.4, 13.4, Ax_d3), P(Ax_post)),
             color=BLACK, lw=0.6)
ax.set_ylim(3, 4.5)
ax.set_yticks([3, 3.5, 4, 4.5])
ax.set_ylabel('x(t)', fontsize=LFS, labelpad=1)
style(ax)
legend(ax, [h], ['x coordinate'], 222, 143)

# y(t)
ax = tax((37, 217, 742, 277))
h, = ax.plot(*J(P(Ay_pre), D(0.75, 2.0, Ay_d1), D(2.1, 9.4, Ay_d2), D(9.5, 13.5, Ay_d3), P(Ay_post)),
             color=BLACK, lw=0.6)
ax.set_ylim(0, 11.5)
ax.set_yticks([0, 5, 10])
ax.set_ylabel('y(t)', fontsize=LFS, labelpad=1)
style(ax)
legend(ax, [h], ['y coordinate'], 220, 243)

# area / length
ax = tax((37, 295, 742, 351))
h1, = ax.plot(*P(A_area), color=BLUE, lw=0.6)
ax.set_ylim(0, 10.8)
ax.set_yticks([0, 5, 10])
ax.set_ylabel('Area, Length', fontsize=LFS, color=BLUE, labelpad=1)
style(ax, BLUE, right=False)
tw = ytwin(ax, RED, (0, 4), [0, 1, 2, 3, 4])
h2, = tw.plot(*P(A_length), color=RED, lw=0.6)
legend(tw, [h1, h2], [r'D$^{(2)}$($\cdot$) - Area (2D) - 30 sec', r'D$^{(1)}$($\cdot$) -Length (1D) - 30 sec'],
       218, 300, fs=7.5)

# speed
ax = tax((37, 366, 742, 419))
h1, = ax.plot(*J(P(A_sp2_pre), D(0.75, 2.0, A_sp2_d1), D(2.05, 9.95, A_sp2_d2), D(10.0, 13.4, A_sp2_d3),
                 P(A_sp2_post)), color=BLUE, lw=0.6)
ax.set_ylim(0, 10)
ax.set_yticks([0, 5, 10])
ax.set_ylabel('Speed/sec', fontsize=LFS, color=BLUE, labelpad=1)
style(ax, BLUE, right=False)
tw = ytwin(ax, RED, (0, 4), [0, 2, 4])
h2, = tw.plot(*P(A_sp1), color=RED, lw=0.6)
legend(tw, [h1, h2], [r'M$_{2D}$($\cdot$) - 2D Speed', r'M$_{1D}$($\cdot$) - 1D Speed'], 241, 369, fs=7.5)

# angle
ax = tax((37, 439, 742, 494))
h1, = ax.plot(*J(P(A_angNP_pre), D(0.8, 13.5, A_angNP_d), P(A_angNP_post)), color=BLUE, lw=0.6)
ax.set_ylim(-5, 5)
ax.set_yticks([-5, 0, 5])
ax.set_ylabel('Angle', fontsize=LFS, color=BLUE, labelpad=1)
style(ax, BLUE, right=False)
tw = ytwin(ax, GREEN, (-5, 5), [-5, 0, 5])
h2, = tw.plot(*J(P(A_angP_pre), D(0.75, 2.0, A_angP_d1), D(2.1, 13.5, A_angP_d2), P(A_angP_post)),
              color=GREEN, lw=0.6)
legend(tw, [h1, h2], [r'$\theta^{(NP)}$($\cdot$) - NonMult pi/2', r'$\theta^{(P)}$($\cdot$) - Mult pi/2'],
       196, 433, fs=6)
ax.plot([0, 10], [-0.31, -0.31], color=BLACK, lw=2, transform=ax.get_xaxis_transform(), clip_on=False)
ax.text(6.1, -0.46, 'Stimulation', transform=ax.get_xaxis_transform(), ha='center', va='center', fontsize=7.5)
ax.set_xlabel('time (min)', fontsize=8.5, labelpad=7)

# ================= Panel B =================
fig.text(5 / W, 1 - 546 / H, 'B', fontsize=11, fontweight='bold', va='center')
traj((37, 575, 208, 633), B1_path, (3, 4.4), (0, 7.3), [3, 3.5, 4], [0, 5], 'y coordinate')
traj((221, 572, 390, 633), B2_path, (3, 4.5), (0, 7.6), [3, 3.5, 4, 4.5], [0, 5])
traj((408, 568, 572, 633), B3_path, (3, 4.5), (0, 10), [3, 3.5, 4, 4.5], [0, 5, 10])
traj((587, 568, 748, 633), B4_path, (3, 4.2), (0, 10), [3, 3.5, 4], [0, 5, 10])
for xc, yc, txt in [(117, 564, r'75$\mu$A, 50 Hz (in Light): -20 to -10 min'), (303, 561, '-10 to 0 min'),
                    (475, 563, '0 to 10 min (stimulation)'), (657, 558, '10 to 20 min')]:
    fig.text(xc / W, 1 - yc / H, txt, fontsize=GFS, ha='center', va='center')
fig.text(400 / W, 1 - 659 / H, 'x coordinate', fontsize=8.5, ha='center', va='center')

ax = tax((37, 671, 744, 723))
h, = ax.plot(*P(B_x), color=BLACK, lw=0.6)
ax.set_ylim(3, 4.5)
ax.set_yticks([3, 3.5, 4, 4.5])
ax.set_ylabel('x(t)', fontsize=LFS, labelpad=1)
style(ax)
legend(ax, [h], ['x coordinate'], 45, 677)

ax = tax((37, 740, 744, 792))
h, = ax.plot(*P(B_y), color=BLACK, lw=0.6)
ax.set_ylim(0, 10)
ax.set_yticks([0, 5, 10])
ax.set_ylabel('y(t)', fontsize=LFS, labelpad=1)
style(ax)
legend(ax, [h], ['y coordinate'], 46, 749)

ax = tax((37, 809, 744, 871))
h1, = ax.plot(*P(B_area), color=BLUE, lw=0.6)
ax.set_ylim(0, 6)
ax.set_yticks([0, 2, 4, 6])
ax.set_ylabel('Area, Length', fontsize=LFS, color=BLUE, labelpad=1)
style(ax, BLUE, right=False)
tw = ytwin(ax, RED, (0, 6), [0, 2, 4, 6])
h2, = tw.plot(*P(B_length), color=RED, lw=0.6)
legend(tw, [h1, h2], [r'D$^{(2)}$($\cdot$) - Area (2D)- 30 sec', r'D$^{(1)}$($\cdot$) - Length (1D) - 30 sec'],
       405, 817, fs=7.5)

ax = tax((37, 891, 744, 951))
h1, = ax.plot(*J(P([(-20, 0), (-15.1, 0)]), D(-15.0, -12.2, B_sp2_d1), P([(-12.1, 0)]),
                 D(-11.2, -10.0, B_sp2_d2), P([(-9.0, 0)]), D(-8.7, -5.7, B_sp2_d3), P(B_sp2_mid),
                 D(13.8, 19.2, B_sp2_d4), P([(20, 0)])), color=BLUE, lw=0.6)
ax.set_ylim(0, 2)
ax.set_yticks([0, 1, 2])
ax.set_ylabel('Speed/sec', fontsize=LFS, color=BLUE, labelpad=1)
style(ax, BLUE, right=False)
tw = ytwin(ax, RED, (0, 2), [0, 1, 2])
h2, = tw.plot(*J(P(B_sp1_pre), D(-18.5, -15.0, B_sp1_d1), P(B_sp1_mid), D(-1.3, 0.6, B_sp1_d2),
                 P(B_sp1_post)), color=RED, lw=0.6)
legend(tw, [h1, h2], [r'M$_{2D}$($\cdot$) - 2D Speed', r'M$_{1D}$($\cdot$) - 1D Speed'], 432, 893, fs=7.5)

ax = tax((37, 969, 744, 1029))
h1, = ax.plot(*P(B_angNP), color=BLUE, lw=0.6)
ax.set_ylim(-6, 6)
ax.set_yticks([-6, -4, -2, 0, 2, 4, 6])
ax.set_ylabel('Angle', fontsize=LFS, color=BLUE, labelpad=1)
style(ax, BLUE, right=False)
tw = ytwin(ax, GREEN, (-2, 4), [-2, -1, 0, 1, 2, 3, 4])
h2, = tw.plot(*pieces(B_angP_pieces), color=GREEN, lw=0.6)
legend(tw, [h1, h2], [r'$\theta^{(NP)}$($\cdot$) - NonMult pi/2', r'$\theta^{(P)}$($\cdot$) - Mult pi/2'],
       49, 965, fs=6)
ax.plot([0, 10], [-0.27, -0.27], color=BLACK, lw=2, transform=ax.get_xaxis_transform(), clip_on=False)
ax.text(5.5, -0.37, 'Stimulation', transform=ax.get_xaxis_transform(), ha='center', va='center', fontsize=7.5)
ax.set_xlabel('time (min)', fontsize=8.5, labelpad=5)

fig.savefig('out.png', dpi=100)
